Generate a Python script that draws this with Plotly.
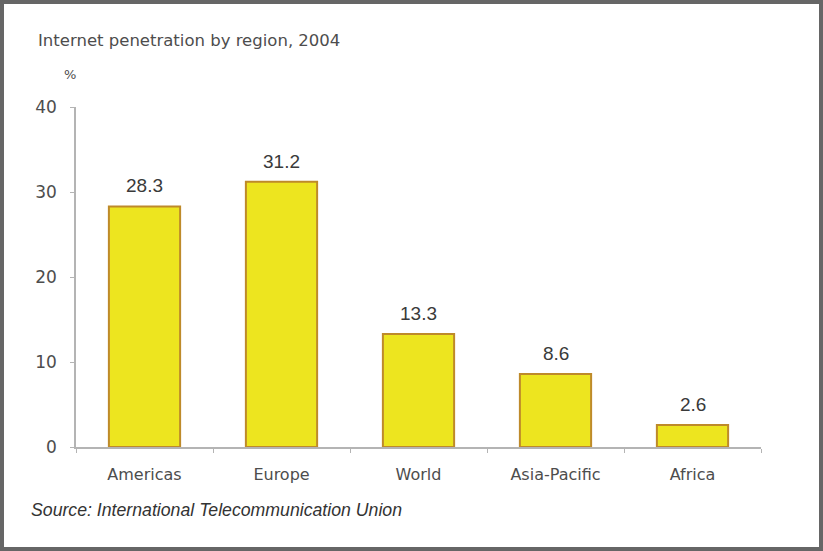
import plotly.graph_objects as go

# Internet penetration by region, 2004 (%)
regions = ["Americas", "Europe", "World", "Asia-Pacific", "Africa"]
penetration = [28.3, 31.2, 13.3, 8.6, 2.6]
y_ticks = [0, 10, 20, 30, 40]

W, H = 823, 551
L, R, T, B = 76, 62, 107, 104
pw, ph = W - L - R, H - T - B


def px_x(x):
    return (x - L) / pw


def px_y(y):
    return (H - B - y) / ph


GEO = "'DejaVu Sans', Lato, sans-serif"
ARIAL = "'Liberation Sans', Arial, sans-serif"
TEXT_GREY = "#4d4d4d"

fig = go.Figure(
    go.Bar(
        x=regions,
        y=penetration,
        width=0.52,
        marker=dict(color="#EDE51F", line=dict(color="#BE8A2A", width=2)),
        cliponaxis=False,
    )
)

# value labels sitting a little above each bar
value_labels = [
    dict(
        x=r, y=v, xref="x", yref="y",
        text=f"{v:.1f}",
        showarrow=False,
        xanchor="center", yanchor="bottom",
        yshift=8,
        font=dict(family=ARIAL, size=19, color="#3a3a3a"),
    )
    for r, v in zip(regions, penetration)
]

fig.update_layout(
    width=W,
    height=H,
    margin=dict(l=L, r=R, t=T, b=B),
    paper_bgcolor="white",
    plot_bgcolor="white",
    showlegend=False,
    xaxis=dict(
        type="category",
        showline=True,
        linecolor="#b4b4b4",
        linewidth=1.5,
        ticks="outside",
        tickson="boundaries",
        ticklen=4,
        tickcolor="#b4b4b4",
        ticklabelstandoff=12,
        tickfont=dict(family=GEO, size=16, color=TEXT_GREY),
        showgrid=False,
        zeroline=False,
    ),
    yaxis=dict(
        range=[0, 40],
        tickvals=y_ticks,
        showline=True,
        linecolor="#b4b4b4",
        linewidth=1.5,
        ticks="outside",
        ticklen=4,
        tickcolor="#b4b4b4",
        ticklabelstandoff=10,
        tickfont=dict(family=GEO, size=17, color=TEXT_GREY),
        showgrid=False,
        zeroline=False,
    ),
    annotations=value_labels + [
        dict(
            text="Internet penetration by region, 2004",
            xref="paper", yref="paper",
            x=px_x(36), y=px_y(40),
            xanchor="left", yanchor="middle",
            showarrow=False,
            font=dict(family=GEO, size=16.5, color=TEXT_GREY),
        ),
        dict(
            text="%",
            xref="paper", yref="paper",
            x=px_x(70), y=px_y(75),
            xanchor="center", yanchor="middle",
            showarrow=False,
            font=dict(family=GEO, size=13, color=TEXT_GREY),
        ),
        dict(
            text="<i>Source: International Telecommunication Union</i>",
            xref="paper", yref="paper",
            x=px_x(29), y=px_y(510),
            xanchor="left", yanchor="middle",
            showarrow=False,
            font=dict(family=ARIAL, size=17.7, color="#333333"),
        ),
    ],
    shapes=[
        dict(
            type="rect",
            xref="paper", yref="paper",
            x0=px_x(2), x1=px_x(821),
            y0=px_y(549), y1=px_y(2),
            line=dict(color="#666666", width=4),
            fillcolor="rgba(0,0,0,0)",
            layer="below",
        )
    ],
)

fig.write_html("out.html")
